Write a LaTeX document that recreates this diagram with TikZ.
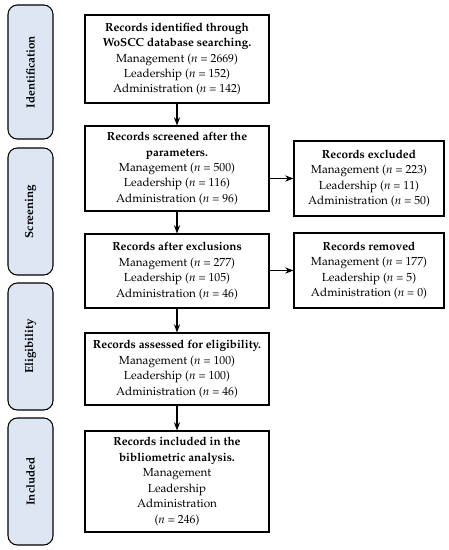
\documentclass[tikz,border=0pt]{standalone}
\usepackage[T1]{fontenc}
\usepackage{mathpazo}
\usetikzlibrary{arrows.meta}

\definecolor{phasefill}{RGB}{221,230,242}

\begin{document}
\begin{tikzpicture}[>=Stealth, x=0.03cm, y=-0.03cm, line width=0.9pt,
    every node/.style={font=\fontsize{10}{13.2}\selectfont},
    box/.style={draw, fill=white, align=center, minimum width=184*0.03cm, inner sep=2pt},
    sidebox/.style={draw, fill=phasefill, rounded corners=8pt, minimum width=45*0.03cm},
    phasetext/.style={rotate=90, font=\fontsize{10}{12}\selectfont\bfseries}]
    \useasboundingbox (0,0) rectangle (449,550);

    % Phasen links
    \node[sidebox, minimum height=134*0.03cm] (ident) at (30.5,72) {};
    \node[phasetext] (identtext) at (ident) {Identification};
    \node[sidebox, minimum height=127*0.03cm] (screen) at (30.5,211.5) {};
    \node[phasetext] (screentext) at (screen) {Screening};
    \node[sidebox, minimum height=127*0.03cm] (elig) at (30.5,346.5) {};
    \node[phasetext] (eligtext) at (elig) {Eligibility};
    \node[sidebox, minimum height=127*0.03cm] (incl) at (30.5,481.5) {};
    \node[phasetext] (incltext) at (incl) {Included};

    % Hauptkette
    \node[box, minimum height=88*0.03cm] (found) at (177,59)
        {\textbf{Records identified through}\\ \textbf{WoSCC database searching.}\\
         Management (\textit{n} = 2669)\\ Leadership (\textit{n} = 152)\\ Administration (\textit{n} = 142)};
    \node[box, minimum height=85*0.03cm] (screened) at (177,168.5)
        {\textbf{Records screened after the}\\ \textbf{parameters.}\\
         Management (\textit{n} = 500)\\ Leadership (\textit{n} = 116)\\ Administration (\textit{n} = 96)};
    \node[box, minimum height=74*0.03cm] (after) at (177,271)
        {\textbf{Records after exclusions}\\
         Management (\textit{n} = 277)\\ Leadership (\textit{n} = 105)\\ Administration (\textit{n} = 46)};
    \node[box, minimum height=72*0.03cm] (assessed) at (177,369)
        {\textbf{Records assessed for eligibility.}\\
         Management (\textit{n} = 100)\\ Leadership (\textit{n} = 100)\\ Administration (\textit{n} = 46)};
    \node[box, minimum height=101*0.03cm] (included) at (177,481.5)
        {\textbf{Records included in the}\\ \textbf{bibliometric analysis.}\\
         Management\\ Leadership\\ Administration\\ (\textit{n} = 246)};

    % Rechte Spalte
    \node[box, minimum width=150*0.03cm, minimum height=75*0.03cm] (excluded) at (369,178.5)
        {\textbf{Records excluded}\\
         Management (\textit{n} = 223)\\ Leadership (\textit{n} = 11)\\ Administration (\textit{n} = 50)};
    \node[box, minimum width=150*0.03cm, minimum height=75*0.03cm] (removed) at (369,270.5)
        {\textbf{Records removed}\\
         Management (\textit{n} = 177)\\ Leadership (\textit{n} = 5)\\ Administration (\textit{n} = 0)};

    % Pfeile
    \draw[->] (found) -- (screened);
    \draw[->] (screened) -- (after);
    \draw[->] (after) -- (assessed);
    \draw[->] (assessed) -- (included);
    \draw[->] (screened.east |- excluded.west) -- (excluded.west);
    \draw[->] (after.east |- removed.west) -- (removed.west);
\end{tikzpicture}
\end{document}
